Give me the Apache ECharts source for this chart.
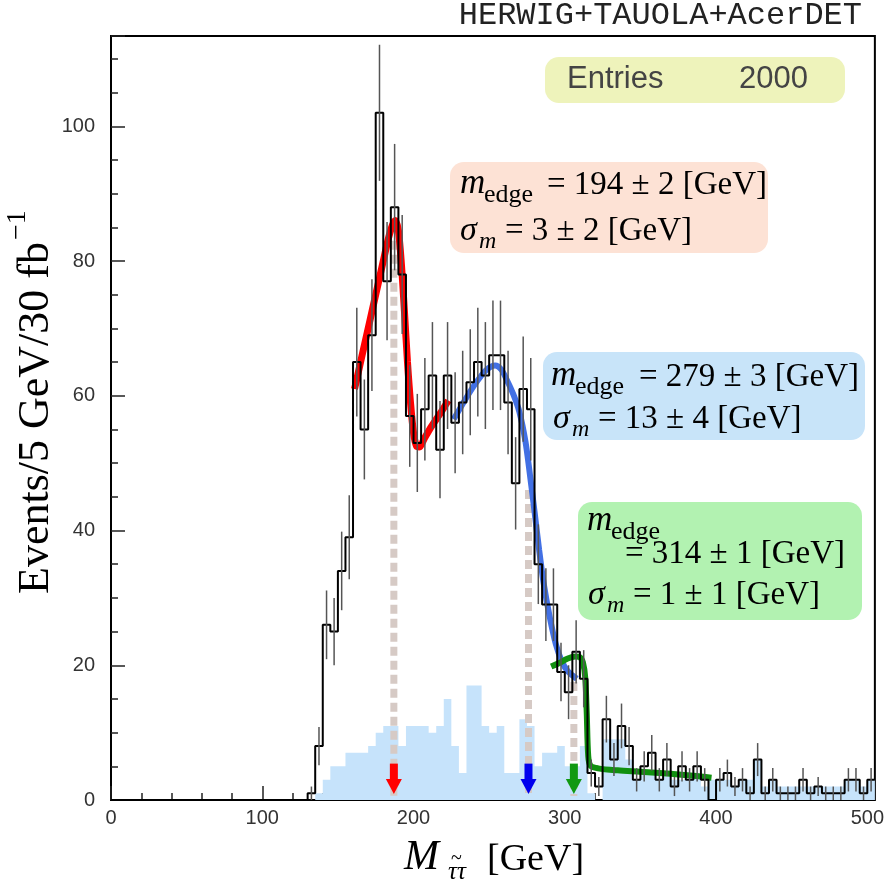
<!DOCTYPE html>
<html><head><meta charset="utf-8">
<script src="https://cdn.jsdelivr.net/npm/echarts@6/dist/echarts.min.js"></script>
<style>html,body{margin:0;padding:0;background:#fff}#c{width:887px;height:882px}</style>
</head><body><div id="c"></div>
<script>
// ---------------- data ----------------
const BIN_W = 5;            // GeV per bin, bins start at 0
const X_MAX = 505;
const Y_MAX = 113.4;
const xTickLabels = [0, 100, 200, 300, 400, 500];
const yTickLabels = [0, 20, 40, 60, 80, 100];

// signal+background counts per 5 GeV bin (0..505)
const dataCounts = [
  0,0,0,0,0,0,0,0,0,0, 0,0,0,0,0,0,0,0,0,0, 0,0,0,0,0,0,
  1,8,26,25,34,39,65,55,69,102,77,88,78,57,53,58,63,52,63,56,59,62,
  65,63,66,66,59,47,61,58,35,29,29,19,16,22,18,4,2,
  12,6,11,8,3,5,7,3,6,2,5,3,5,3,0,3,4,2,3,1,6,1,3,1,1,1,3,1,2,1,1,1,3,3,1,3
];
// background-only counts (light blue)
const bkgCounts = [
  0,0,0,0,0,0,0,0,0,0, 0,0,0,0,0,0,0,0,0,0, 0,0,0,0,0,0,
  0,1,3,5,5,7,7,7,8,10,11,11,8,11,11,11,10,11,15,8,4,17,
  17,11,10,11,4,4,12,11,5,7,7,8,5,5,8,1,0,
  9,9,9,6,3,4,4,3,4,3,3,3,4,2,3,3,3,2,3,3,6,2,3,2,2,2,2,2,2,2,2,2,3,3,2,3
];
// fit curves [M, events]
const redFit = [[161,61],[166,66],[171,71],[176,76],[180,80],[183,83],[186,85.3],[188,86],[190,84.5],[192,79.5],[194,72.5],[196,65],[198,59],[200,54.5],[202,52.5],[204,52.4],[207,53.6],[212,55.5],[218,57.5],[223,59.3]];
const blueFit = [[226.5,56.5],[232,58.6],[240,61.5],[248,63.8],[254,64.5],[258,63.9],[262,62.2],[266,60.2],[270,57.6],[274,53.2],[277,48.2],[280,42.8],[283,37.2],[286,32.2],[290,27.2],[294,23.2],[298,20.6],[302,19.1],[308,18]];
const greenFit = [[291,19.8],[296,20.3],[302,21],[307,21.3],[310,21.2],[312,20.4],[313.5,18.2],[314.5,13],[315.5,6.5],[317,5.1],[322,4.7],[335,4.4],[350,4.2],[370,3.9],[385,3.6],[397,3.3]];
// edge markers: position, top of dashed line, colour
const edgeX = [187, 276, 306];
const edgeTop = [83, 46, 17.5];
const edgeColors = ['#ff0000', '#0000ee', '#119911'];
const arrowTop = 5.4, arrowTip = 0.9;

// ---------------- build ----------------
function stepData(counts) {
  const d = counts.map((v, i) => [i * BIN_W, v]);
  d.push([counts.length * BIN_W, counts[counts.length - 1]]);
  return d;
}
const errData = [];
dataCounts.forEach((v, i) => { if (v > 0) errData.push([i * BIN_W + BIN_W / 2, v, Math.sqrt(v)]); });
const arrowData = edgeX.map((x, i) => [x, arrowTop, arrowTip, i]);

const serif = "'Liberation Serif','DejaVu Serif',serif";
const sans = "'Liberation Sans','DejaVu Sans',sans-serif";
function T(x, base, text, size, o) {
  o = o || {};
  return {
    type: 'text', x: x, y: base - 0.35 * size, z: 100,
    style: {
      text: text, fontSize: size, fontFamily: o.family || serif,
      fontStyle: o.italic ? 'italic' : 'normal',
      fill: o.color || '#000',
      align: o.align || 'left', textAlign: o.align || 'left',
      verticalAlign: 'middle', textVerticalAlign: 'middle'
    }
  };
}
function box(x, y, w, h, color) {
  return { type: 'rect', shape: { x: x, y: y, width: w, height: h, r: 14 }, style: { fill: color }, z: 90 };
}

const graphics = [
  // title
  T(862, 27, 'HERWIG+TAUOLA+AcerDET', 32, { family: "'Liberation Mono','DejaVu Sans Mono',monospace", align: 'right', color: '#222' }),
  // entries box
  box(545, 57, 300, 46, '#eef3bb'),
  T(567, 90, 'Entries', 31, { family: sans, color: '#444' }),
  T(808, 90, '2000', 31, { family: sans, color: '#444', align: 'right' }),
  // red box
  box(450, 162, 318, 91, '#fde2d5'),
  T(460, 196, 'm', 35, { italic: true }),
  T(484, 204, 'edge', 26),
  T(547, 197, '= 194 ± 2 [GeV]', 33),
  T(460, 243, 'σ', 34, { italic: true }),
  T(479, 250, 'm', 24, { italic: true }),
  T(505, 243, '= 3 ± 2 [GeV]', 33),
  // blue box
  box(543, 352, 322, 88, '#c8e4f9'),
  T(551, 388, 'm', 35, { italic: true }),
  T(575, 396, 'edge', 26),
  T(639, 389, '= 279 ± 3 [GeV]', 33),
  T(553, 431, 'σ', 34, { italic: true }),
  T(572, 438, 'm', 24, { italic: true }),
  T(598, 431, '= 13 ± 4 [GeV]', 33),
  // green box
  box(578, 502, 284, 118, '#b2f2b1'),
  T(587, 533, 'm', 35, { italic: true }),
  T(611, 541, 'edge', 26),
  T(625, 566, '= 314 ± 1 [GeV]', 33),
  T(588, 607, 'σ', 34, { italic: true }),
  T(607, 614, 'm', 24, { italic: true }),
  T(633, 607, '= 1 ± 1 [GeV]', 33),
  // x axis title
  T(404, 873, 'M', 42, { italic: true }),
  T(448, 881, 'ττ', 25, { italic: true }),
  T(451, 866, '~', 20),
  T(487, 873, '[GeV]', 38),
  // y axis title
  {
    type: 'group', x: 36, y: 242, rotation: Math.PI / 2, z: 100,
    children: [
      { type: 'text', x: 0, y: 0, style: { text: 'Events/5 GeV/30 fb', fontSize: 44, fontFamily: serif, fill: '#000', align: 'right', textAlign: 'right', verticalAlign: 'middle', textVerticalAlign: 'middle' } },
      { type: 'text', x: 2, y: -18, style: { text: '−1', fontSize: 28, fontFamily: serif, fill: '#000', align: 'left', textAlign: 'left', verticalAlign: 'middle', textVerticalAlign: 'middle' } }
    ]
  }
];

const chart = echarts.init(document.getElementById('c'), null, { renderer: 'canvas' });
chart.setOption({
  animation: false,
  backgroundColor: '#fff',
  grid: { left: 111, right: 10, top: 36, bottom: 82, show: true, borderColor: '#000', borderWidth: 2, backgroundColor: 'transparent' },
  xAxis: {
    type: 'value', min: 0, max: X_MAX, interval: 100,
    axisLine: { show: false },
    axisTick: { show: true, inside: true, length: 14, lineStyle: { color: '#222', width: 1.5 } },
    minorTick: { show: true, splitNumber: 5, length: 7, lineStyle: { color: '#222', width: 1.5 } },
    splitLine: { show: false },
    axisLabel: { margin: 8, fontSize: 20, fontFamily: sans, color: '#333',
      formatter: v => (xTickLabels.indexOf(v) >= 0 ? String(v) : '') }
  },
  yAxis: {
    type: 'value', min: 0, max: Y_MAX, interval: 20,
    axisLine: { show: false },
    axisTick: { show: true, inside: true, length: 14, lineStyle: { color: '#222', width: 1.5 } },
    minorTick: { show: true, splitNumber: 4, length: 7, lineStyle: { color: '#222', width: 1.5 } },
    splitLine: { show: false },
    axisLabel: { margin: 16, fontSize: 20, fontFamily: sans, color: '#333',
      formatter: v => (yTickLabels.indexOf(v) >= 0 ? String(v) : '') }
  },
  series: [
    { type: 'line', name: 'bkg', step: 'end', data: stepData(bkgCounts), symbol: 'none', z: 1,
      lineStyle: { width: 0, opacity: 0 }, areaStyle: { color: '#c6e3fb', opacity: 1 } },
    ...edgeX.map((x, i) => ({ type: 'line', data: [[x, edgeTop[i]], [x, 0.6]], symbol: 'none', z: 2,
      lineStyle: { color: '#d6cac5', width: 7, type: [9, 5] } })),
    { type: 'line', data: redFit, smooth: 0.3, symbol: 'none', z: 3, lineStyle: { color: '#ff0000', width: 7 } },
    { type: 'line', data: blueFit, smooth: 0.3, symbol: 'none', z: 3, lineStyle: { color: '#4270e4', width: 6 } },
    { type: 'line', data: greenFit, smooth: 0.3, symbol: 'none', z: 3, lineStyle: { color: '#11900f', width: 6 } },
    { type: 'line', name: 'data', step: 'end', data: stepData(dataCounts), symbol: 'none', z: 4,
      lineStyle: { color: '#000', width: 2 } },
    { type: 'custom', name: 'err', data: errData, z: 5, clip: true,
      renderItem: (params, api) => {
        const x = api.value(0), v = api.value(1), e = api.value(2);
        const p1 = api.coord([x, v - e]), p2 = api.coord([x, v + e]);
        return { type: 'line', shape: { x1: p1[0], y1: p1[1], x2: p2[0], y2: p2[1] }, style: { stroke: '#555', lineWidth: 1.5 } };
      } },
    { type: 'custom', name: 'arrows', data: arrowData, z: 6,
      renderItem: (params, api) => {
        const x = api.value(0), top = api.coord([x, api.value(1)]), tip = api.coord([x, api.value(2)]);
        const col = edgeColors[api.value(3)];
        const headLen = 15, shaftW = 8, headW = 16;
        return { type: 'group', children: [
          { type: 'rect', shape: { x: top[0] - shaftW / 2, y: top[1], width: shaftW, height: tip[1] - headLen - top[1] + 1 }, style: { fill: col } },
          { type: 'polygon', shape: { points: [[tip[0] - headW / 2, tip[1] - headLen], [tip[0] + headW / 2, tip[1] - headLen], [tip[0], tip[1]]] }, style: { fill: col } }
        ] };
      } }
  ],
  graphic: graphics
});
</script></body></html>
